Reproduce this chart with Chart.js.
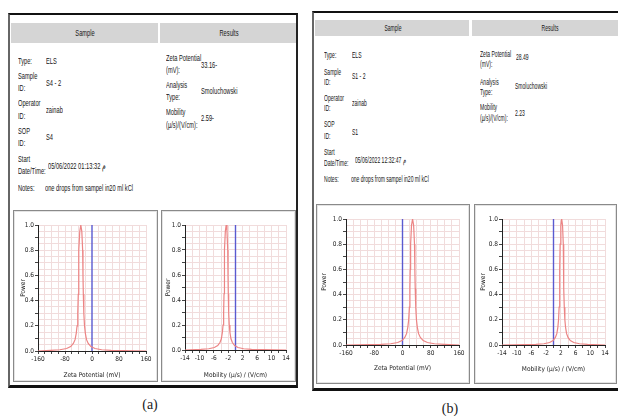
<!DOCTYPE html>
<html><head><meta charset="utf-8">
<script src="https://cdn.jsdelivr.net/npm/chart.js@4/dist/chart.umd.min.js"></script>
<style>
body{margin:0;width:618px;height:418px;background:#fff;position:relative;overflow:hidden;font-family:"Liberation Sans",Arial,sans-serif;}
.panel{position:absolute;box-sizing:border-box;border-top:2px solid #111;border-left:2px solid #666;border-right:2px solid #222;border-bottom:3px solid #111;background:#fff}
.hdr{position:absolute;background:#d5d5d5}
.t{position:absolute;font-size:9.5px;line-height:10px;color:#151515;white-space:nowrap;transform-origin:0 50%;transform:scaleX(0.6)}
.t.b{font-size:9px;transform:scaleX(0.56)}
.h{transform-origin:50% 50%;transform:translate(-50%,0) scaleX(0.6)}
.h.b{transform:translate(-50%,0) scaleX(0.56)}
.box{position:absolute;box-sizing:border-box;border:1px solid #8a8a8a;box-shadow:inset 0 0 0 1px #e4e4e4}
canvas{position:absolute}
.cap{position:absolute;font-family:"Liberation Serif",serif;font-size:14px;color:#222;transform:translate(-50%,-50%)}
</style>
</head>
<body>
<div class="panel" style="left:8px;top:13px;width:290px;height:375px"></div>
<div class="panel" style="left:312px;top:11px;width:308px;height:380px"></div>
<div class="hdr" style="left:11px;top:23px;width:147px;height:20px"></div>
<div class="hdr" style="left:160px;top:23px;width:136px;height:20px"></div>
<div class="hdr" style="left:315px;top:20px;width:154px;height:16px"></div>
<div class="hdr" style="left:472px;top:20px;width:146px;height:16px"></div>
<div class="box" style="left:13px;top:210px;width:145px;height:172px"></div>
<div class="box" style="left:161px;top:210px;width:135px;height:172px"></div>
<div class="box" style="left:316px;top:204px;width:154px;height:180px"></div>
<div class="box" style="left:474px;top:204px;width:143px;height:180px"></div>
<canvas id="c1"></canvas><canvas id="c2"></canvas><canvas id="c3"></canvas><canvas id="c4"></canvas>
<div class="cap" style="left:150px;top:405px">(a)</div>
<div class="cap" style="left:450px;top:409px">(b)</div>
<script>
// ---- data ----
const zetaTicks = [-160, -80, 0, 80, 160];
const mobilityTicks = [-14, -10, -6, -2, 2, 6, 10, 14];
const powerTicks = [0.0, 0.2, 0.4, 0.6, 0.8, 1.0];

// (a) sample S4 - 2 : zeta potential distribution (peak about -33.16 mV)
const zetaA_mV = [-160, -123.2, -95.2, -75.2, -63.2, -55.2, -50.2, -46.7, -44.2, -42.2, -40.7, -39.7, -38.7, -36.2, -33.2,
  -30.2, -27.7, -26.7, -25.7, -24.2, -22.2, -19.7, -16.2, -11.2, -3.2, 8.8, 28.8, 56.8, 160];
const zetaA_power = [0, 0.005, 0.01, 0.02, 0.035, 0.06, 0.09, 0.14, 0.2, 0.3, 0.45, 0.6, 0.8, 0.95, 1.0,
  0.95, 0.8, 0.6, 0.45, 0.3, 0.2, 0.14, 0.09, 0.06, 0.035, 0.02, 0.01, 0.005, 0];
// (a) mobility distribution (peak about -2.59)
const mobA = [-14, -9.62, -7.43, -5.87, -4.93, -4.31, -3.92, -3.64, -3.45, -3.29, -3.18, -3.10, -3.02, -2.82, -2.59,
  -2.36, -2.16, -2.08, -2.00, -1.89, -1.73, -1.54, -1.26, -0.87, -0.25, 0.69, 2.25, 4.44, 14];
const mobA_power = [0, 0.005, 0.01, 0.02, 0.035, 0.06, 0.09, 0.14, 0.2, 0.3, 0.45, 0.6, 0.8, 0.95, 1.0,
  0.95, 0.8, 0.6, 0.45, 0.3, 0.2, 0.14, 0.09, 0.06, 0.035, 0.02, 0.01, 0.005, 0];
// (b) sample S1 - 2 : zeta potential distribution (peak about 28.49 mV)
const zetaB_mV = [-160, -61.5, -33.5, -13.5, -1.5, 6.5, 11.5, 15, 17.5, 19.5, 21, 22, 23, 25.5, 28.5,
  31.5, 34, 35, 36, 37.5, 39.5, 42, 45.5, 50.5, 58.5, 70.5, 90.5, 118.5, 160];
const zetaB_power = [0, 0.005, 0.01, 0.02, 0.035, 0.06, 0.09, 0.14, 0.2, 0.3, 0.45, 0.6, 0.8, 0.95, 1.0,
  0.95, 0.8, 0.6, 0.45, 0.3, 0.2, 0.14, 0.09, 0.06, 0.035, 0.02, 0.01, 0.005, 0];
// (b) mobility distribution (peak about 2.23)
const mobB = [-14, -4.80, -2.61, -1.05, -0.11, 0.51, 0.90, 1.18, 1.37, 1.53, 1.64, 1.72, 1.80, 2.00, 2.23,
  2.46, 2.66, 2.74, 2.82, 2.93, 3.09, 3.28, 3.56, 3.95, 4.57, 5.51, 7.07, 9.26, 14];
const mobB_power = [0, 0.005, 0.01, 0.02, 0.035, 0.06, 0.09, 0.14, 0.2, 0.3, 0.45, 0.6, 0.8, 0.95, 1.0,
  0.95, 0.8, 0.6, 0.45, 0.3, 0.2, 0.14, 0.09, 0.06, 0.035, 0.02, 0.01, 0.005, 0];
// zero reference line
const zeroLineX = [0, 0];
const zeroLineY = [0, 1];

// ---- text of the report tables ----
const textsA = [
  ['Sample',85,33,1],['Results',229,33,1],
  ['Type:',18,61],['Sample',18,76],['ID:',18,88],['Operator',18,103],['ID:',18,116],['SOP',18,131],['ID:',18,143],
  ['Start',18,159],['Date/Time:',18,171],['Notes:',18,188],
  ['ELS',46,61],['S4 - 2',46,83],['zainab',46,110],['S4',46,137],['05/06/2022 01:13:32 م',48,166],['one drops from sampel in20 ml kCl',45,188],
  ['Zeta Potential',166,58],['(mV):',166,70],['Analysis',166,85],['Type:',166,97],['Mobility',166,112],['(µ/s)/(V/cm):',166,125],
  ['33.16-',201,65],['Smoluchowski',201,91],['2.59-',201,118]
];
const textsB = [
  ['Sample',393,28,1],['Results',550,28,1],
  ['Type:',324,55],['Sample',324,72],['ID:',324,82],['Operator',324,98],['ID:',324,108],['SOP',324,124],['ID:',324,136],
  ['Start',324,152],['Date/Time:',324,163],['Notes:',324,179],
  ['ELS',352,55],['S1 - 2',352,76],['zainab',352,103],['S1',352,132],['05/06/2022 12:32:47 م',355,160],['one drops from sampel in20 ml kCl',351,179],
  ['Zeta Potential',480,54],['(mV):',480,64],['Analysis',480,82],['Type:',480,92],['Mobility',480,107],['(µ/s)/(V/cm):',480,118],
  ['28.49',516,57],['Smoluchowski',515,86],['2.23',515,113]
];
function place(list, extra){
  list.forEach(([s,x,y,c])=>{
    const d=document.createElement('div');
    d.className='t'+(c?' h':'')+extra;
    d.textContent=s;
    d.style.left=x+'px'; d.style.top=(y-5)+'px';
    document.body.appendChild(d);
  });
}
place(textsA,'');
place(textsB,' b');

Chart.defaults.font.family='"Liberation Sans Narrow","DejaVu Sans Condensed","Liberation Sans",sans-serif';
const FS=6.5, LH=FS*1.2;

function makeChart(id, L){
  const cv=document.getElementById(id);
  cv.width=L.w; cv.height=L.h;
  cv.style.left=L.left+'px'; cv.style.top=L.top+'px';
  cv.style.width=L.w+'px'; cv.style.height=L.h+'px';
  const [x1,y1,x2,y2]=L.plot;
  const padLeft=(L.yTitleX-L.left)-LH/2;
  const yWidth=(x1-L.left)-padLeft;
  const xHeight=(L.xTitleY-y2)+LH/2;
  const padBottom=(L.top+L.h-y2)-xHeight;
  const labelSet=new Set(L.ticks.map(v=>Math.round(v*100)));
  const powerSet=new Set(powerTicks.map(v=>Math.round(v*100)));
  new Chart(cv,{
    type:'line',
    data:{datasets:[
      {data:L.cx.map((x,i)=>({x,y:L.cy[i]})),borderColor:'#ec8484',borderWidth:1.2,pointRadius:0,tension:0,fill:false},
      {data:zeroLineX.map((x,i)=>({x,y:zeroLineY[i]})),borderColor:'#5a5ad0',borderWidth:1.4,pointRadius:0,fill:false}
    ]},
    options:{
      responsive:false,animation:false,devicePixelRatio:1,
      layout:{padding:{left:padLeft,top:y1-L.top,right:L.left+L.w-x2,bottom:padBottom}},
      plugins:{legend:{display:false},tooltip:{enabled:false}},
      scales:{
        x:{type:'linear',min:L.min,max:L.max,
          ticks:{stepSize:L.step,autoSkip:false,maxRotation:0,padding:1,color:'#222',font:{size:FS},
            callback:v=>labelSet.has(Math.round(v*100))?String(Math.round(v)):''},
          grid:{color:c=>(c.tick&&Math.round(c.tick.value*100)===0)?'rgba(0,0,0,0)':'#f1dcdc',lineWidth:1,tickLength:3,tickColor:'#444'},
          border:{color:'#222',width:1},
          title:{display:true,text:L.xTitle,color:'#222',font:{size:FS},padding:0},
          afterFit:s=>{s.height=xHeight;}
        },
        y:{min:0,max:1,
          ticks:{stepSize:0.05,autoSkip:false,maxTicksLimit:100,padding:1,color:'#222',font:{size:FS},
            callback:v=>powerSet.has(Math.round(v*100))?Number(v).toFixed(1):''},
          grid:{color:'#f1dcdc',lineWidth:1,tickLength:3,
            tickColor:c=>(Math.round(c.tick.value*100)%10===0)?'#444':'rgba(0,0,0,0)'},
          border:{color:'#222',width:1},
          title:{display:true,text:'Power',color:'#222',font:{size:FS},padding:0},
          afterFit:s=>{s.width=yWidth;}
        }
      }
    }
  });
}
makeChart('c1',{left:13,top:210,w:145,h:172,plot:[38,225,146,351],yTitleX:23,xTitleY:375,
  min:-160,max:160,step:20,ticks:zetaTicks,xTitle:'Zeta Potential (mV)',cx:zetaA_mV,cy:zetaA_power});
makeChart('c2',{left:161,top:210,w:135,h:172,plot:[185,225,286,350],yTitleX:168,xTitleY:375,
  min:-14,max:14,step:2,ticks:mobilityTicks,xTitle:'Mobility (µ/s) / (V/cm)',cx:mobA,cy:mobA_power});
makeChart('c3',{left:316,top:204,w:154,h:180,plot:[346,219,459,345],yTitleX:324,xTitleY:368,
  min:-160,max:160,step:20,ticks:zetaTicks,xTitle:'Zeta Potential (mV)',cx:zetaB_mV,cy:zetaB_power});
makeChart('c4',{left:474,top:204,w:143,h:180,plot:[502,219,605,345],yTitleX:483,xTitleY:369,
  min:-14,max:14,step:2,ticks:mobilityTicks,xTitle:'Mobility (µ/s) / (V/cm)',cx:mobB,cy:mobB_power});
</script>
</body></html>
